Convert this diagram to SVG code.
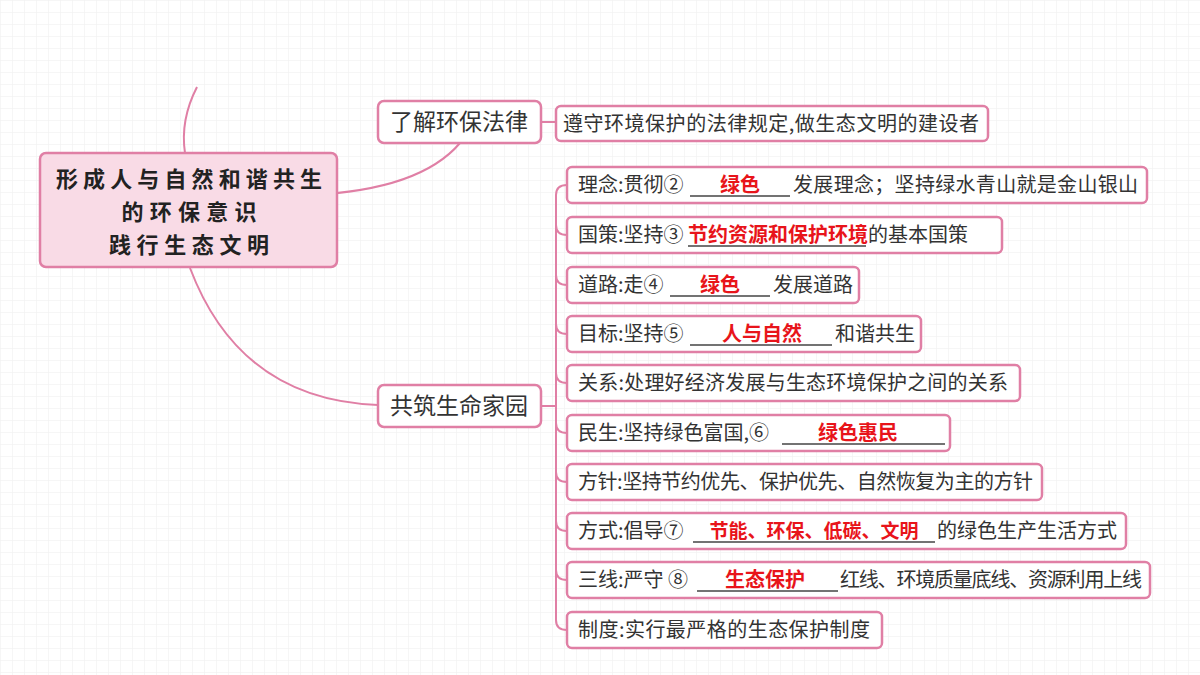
<svg xmlns="http://www.w3.org/2000/svg" width="1200" height="675" viewBox="0 0 1200 675">
<defs>
<pattern id="g" width="12" height="12" patternUnits="userSpaceOnUse"><path d="M12 0H0V12" fill="none" stroke="#eeeeee" stroke-width="1"/></pattern>
<style>
.box{fill:#fff;stroke:#e07fa5;stroke-width:2.5}
.t{font-family:"Noto Sans CJK SC",sans-serif;font-size:20px;fill:#333}
.r{font-family:"Noto Sans CJK SC",sans-serif;font-size:20px;fill:#e8141a;font-weight:bold}
.u{stroke:#444;stroke-width:1.5}
.c{fill:none;stroke:#e07fa5;stroke-width:2}
.rt{font-family:"Noto Sans CJK SC",sans-serif;font-size:22px;font-weight:bold;fill:#222}
</style>
</defs>
<rect width="1200" height="675" fill="#fff"/>
<rect width="1200" height="675" fill="url(#g)"/>
<g id="connectors">
<path class="c" d="M197 87 Q180 120 185 153"/>
<path class="c" d="M310 195 Q420 190 460 143"/>
<path class="c" d="M190 268 Q240 400 378 405"/>
<path class="c" d="M541 122 H556"/>
<path class="c" d="M541 406 H556"/>
<path class="c" d="M556 195 V620"/>
<path class="c" d="M556 195 Q556 185 567 185 M556 225 Q556 235 567 235 M556 275 Q556 285 567 285 M556 324 Q556 334 567 334 M556 373 Q556 383 567 383 M556 423 Q556 433 567 433 M556 472 Q556 482 567 482 M556 521 Q556 531 567 531 M556 570 Q556 580 567 580 M556 620 Q556 630 567 630"/>
</g>
<g id="root">
<rect x="40" y="153" width="297" height="114" rx="6" fill="#f9dbe6" stroke="#e07fa5" stroke-width="2.5"/>
<text x="189" y="187" text-anchor="middle" class="rt" textLength="266">形成人与自然和谐共生</text>
<text x="189" y="220" text-anchor="middle" class="rt" textLength="135">的环保意识</text>
<text x="189" y="253" text-anchor="middle" class="rt" textLength="160">践行生态文明</text>
</g>
<g id="law">
<rect class="box" x="378" y="101" width="163" height="42" rx="6"/>
<text x="459" y="130" text-anchor="middle" class="t" style="font-size:23px">了解环保法律</text>
</g>
<g id="law-1">
<rect class="box" x="556" y="106" width="432" height="35" rx="5"/>
<text x="563" y="131" class="t" textLength="416">遵守环境保护的法律规定,做生态文明的建设者</text>
</g>
<g id="home">
<rect class="box" x="378" y="385" width="163" height="42" rx="6"/>
<text x="459" y="414" text-anchor="middle" class="t" style="font-size:23px">共筑生命家园</text>
</g>
<g id="n1"><rect class="box" x="567" y="167" width="580" height="36" rx="5"/>
<text x="578" y="192" class="t">理念:贯彻②</text><line class="u" x1="690" y1="196" x2="790" y2="196"/><text x="740" y="192" text-anchor="middle" class="r">绿色</text><text x="793" y="192" class="t" textLength="345">发展理念；坚持绿水青山就是金山银山</text></g>
<g id="n2"><rect class="box" x="567" y="217" width="435" height="36" rx="5"/>
<text x="578" y="242" class="t">国策:坚持③</text><line class="u" x1="688" y1="246" x2="866" y2="246"/><text x="688" y="242" class="r">节约资源和保护环境</text><text x="868" y="242" class="t">的基本国策</text></g>
<g id="n3"><rect class="box" x="567" y="267" width="292" height="36" rx="5"/>
<text x="578" y="292" class="t">道路:走④</text><line class="u" x1="670" y1="296" x2="770" y2="296"/><text x="720" y="292" text-anchor="middle" class="r">绿色</text><text x="773" y="292" class="t">发展道路</text></g>
<g id="n4"><rect class="box" x="567" y="316" width="354" height="36" rx="5"/>
<text x="578" y="341" class="t">目标:坚持⑤</text><line class="u" x1="690" y1="345" x2="832" y2="345"/><text x="762" y="341" text-anchor="middle" class="r">人与自然</text><text x="835" y="341" class="t">和谐共生</text></g>
<g id="n5"><rect class="box" x="567" y="365" width="453" height="36" rx="5"/>
<text x="578" y="390" class="t" textLength="430">关系:处理好经济发展与生态环境保护之间的关系</text></g>
<g id="n6"><rect class="box" x="567" y="415" width="383" height="36" rx="5"/>
<text x="578" y="440" class="t">民生:坚持绿色富国,⑥</text><line class="u" x1="782" y1="444" x2="945" y2="444"/><text x="858" y="440" text-anchor="middle" class="r">绿色惠民</text></g>
<g id="n7"><rect class="box" x="567" y="464" width="475" height="36" rx="5"/>
<text x="578" y="489" class="t" textLength="455">方针:坚持节约优先、保护优先、自然恢复为主的方针</text></g>
<g id="n8"><rect class="box" x="567" y="513" width="559" height="36" rx="5"/>
<text x="578" y="538" class="t">方式:倡导⑦</text><line class="u" x1="693" y1="542" x2="935" y2="542"/><text x="814" y="538" text-anchor="middle" class="r" style="font-size:19px">节能、环保、低碳、文明</text><text x="937" y="538" class="t" textLength="180">的绿色生产生活方式</text></g>
<g id="n9"><rect class="box" x="567" y="562" width="583" height="36" rx="5"/>
<text x="578" y="587" class="t">三线:严守 ⑧</text><line class="u" x1="697" y1="591" x2="838" y2="591"/><text x="765" y="587" text-anchor="middle" class="r">生态保护</text><text x="840" y="587" class="t" textLength="302">红线、环境质量底线、资源利用上线</text></g>
<g id="n10"><rect class="box" x="567" y="612" width="315" height="36" rx="5"/>
<text x="578" y="637" class="t" textLength="292">制度:实行最严格的生态保护制度</text></g>
</svg>
